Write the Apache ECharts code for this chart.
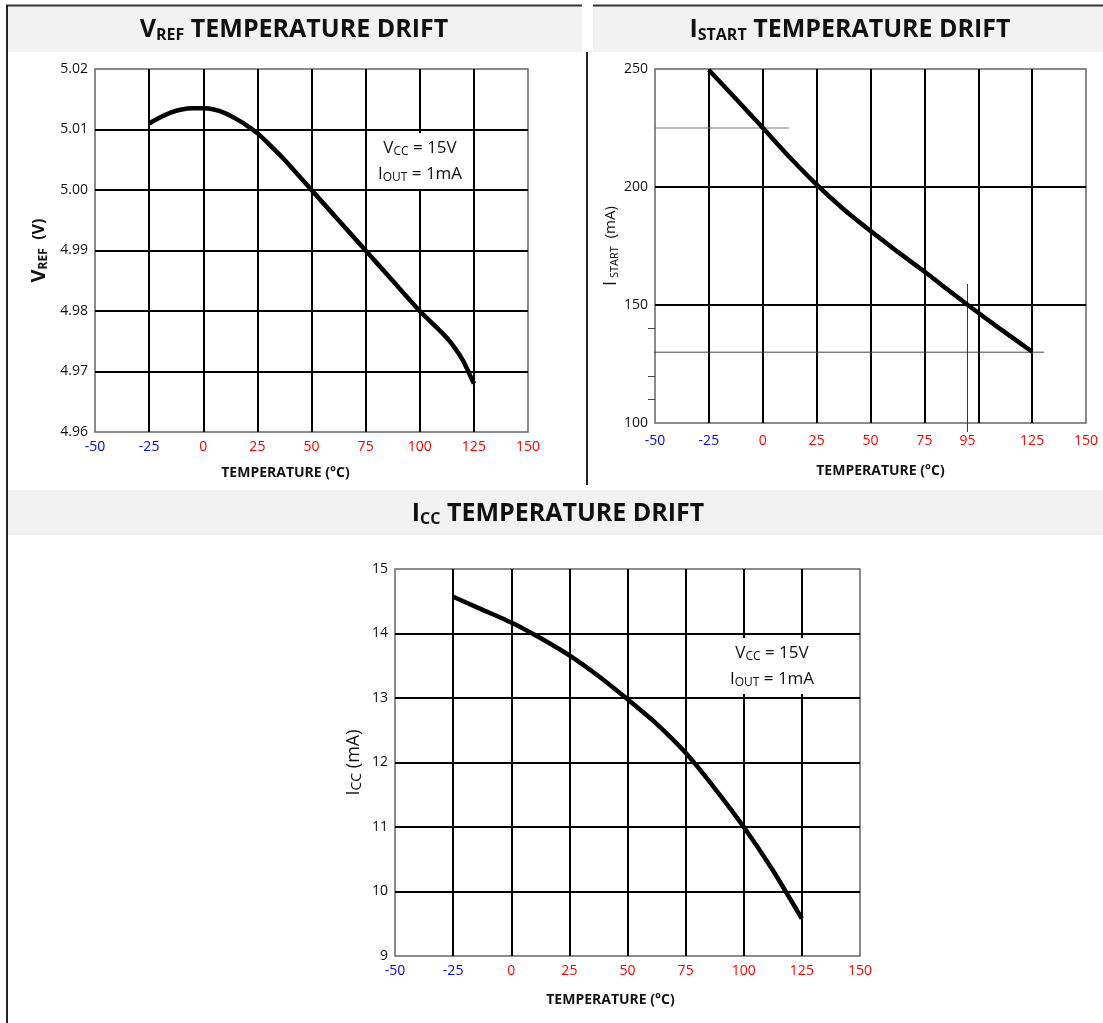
<!DOCTYPE html>
<html><head><meta charset="utf-8">
<script src="https://cdn.jsdelivr.net/npm/echarts@6/dist/echarts.min.js"></script>
<style>html,body{margin:0;padding:0;background:#fff}#c{width:1103px;height:1023px}</style>
</head><body><div id="c"></div>
<script>
// ---- data ----
const istartTickLabels = [-50, -25, 0, 25, 50, 75, 95, 125, 150];
const istartMinorTicks = [110, 120, 140];

const vrefTemp   = [-25, -20, -15, -10, -5, 0, 5, 10, 15, 20, 25, 30, 37.5, 50, 62.5, 75, 87.5, 100, 110, 115, 120, 125];
const vrefValues = [5.0110, 5.0120, 5.0128, 5.0133, 5.0135, 5.0135, 5.0133, 5.0127, 5.0118, 5.0107, 5.0094, 5.0077, 5.0050, 5.0000, 4.9950, 4.9900, 4.9850, 4.9800, 4.9765, 4.9745, 4.9718, 4.9680];

const istartTemp   = [-25, -12.5, 0, 12.5, 25, 37.5, 50, 62.5, 75, 85, 95, 110, 125];
const istartValues = [249.6, 237.4, 225.1, 212.6, 201.0, 190.6, 181.4, 172.6, 164.2, 157.1, 150.1, 140.0, 130.2];

const iccTemp   = [-25, -12.5, 0, 12.5, 25, 37.5, 50, 62.5, 75, 87.5, 100, 112.5, 125];
const iccValues = [14.57, 14.37, 14.17, 13.93, 13.66, 13.34, 12.98, 12.60, 12.15, 11.60, 11.00, 10.33, 9.58];

// guide lines drawn on the I_START chart
const istartGuide225 = [[-53.2, 225], [12.2, 225]];
const istartGuide130 = [[-53.2, 130], [130.5, 130]];
const istartGuide95  = [[95, 158.9], [95, 96.2]];

const zip = (xs, ys) => xs.map((x, i) => [x, ys[i]]);

const FONT = 'Open Sans';
const labelColor = v => (v < 0 ? '#0000ff' : (v === 0 ? '#111' : '#ff0000'));

function xAxisCfg(gridIndex, nameGap, shiftLeft, labelMargin, customValues) {
  const axisLabel = { fontFamily: FONT, fontSize: 14, margin: labelMargin, color: v => labelColor(v) };
  if (customValues) axisLabel.customValues = customValues;
  return {
    type: 'value', gridIndex, min: -50, max: 150, interval: 25,
    name: 'TEMPERATURE (°C)', nameLocation: 'middle', nameGap,
    nameTextStyle: { fontFamily: FONT, fontSize: 14, fontWeight: 'bold', color: '#111',
                     padding: shiftLeft >= 0 ? [0, shiftLeft * 2, 0, 0] : [0, 0, 0, -shiftLeft * 2] },
    axisLine: { show: false }, axisTick: { show: false },
    axisLabel,
    splitLine: { show: true, showMinLine: false, showMaxLine: false, lineStyle: { color: '#000', width: 2 } }
  };
}
function yAxisCfg(gridIndex, min, max, interval, name, nameGap, fmt) {
  return {
    type: 'value', gridIndex, min, max, interval,
    name, nameLocation: 'middle', nameGap,
    nameTextStyle: {
      fontFamily: FONT, fontSize: 15, color: '#111',
      rich: {
        B: { fontFamily: FONT, fontSize: 20, fontWeight: 'bold', color: '#111' },
        bs: { fontFamily: FONT, fontSize: 12, fontWeight: 'bold', color: '#111', padding: [9, 0, 0, 0] },
        bn: { fontFamily: FONT, fontSize: 16, fontWeight: 'bold', color: '#111' },
        b: { fontFamily: FONT, fontSize: 18, color: '#111' },
        s: { fontFamily: FONT, fontSize: 11, color: '#111', padding: [8, 0, 0, 0] },
        c: { fontFamily: FONT, fontSize: 14, color: '#111', padding: [7, 0, 0, 0] },
        n: { fontFamily: FONT, fontSize: 15, color: '#111' },
        m: { fontFamily: FONT, fontSize: 18, color: '#111' }
      }
    },
    axisLine: { show: false }, axisTick: { show: false },
    axisLabel: { fontFamily: FONT, fontSize: 14, color: '#111', margin: 7, formatter: fmt },
    splitLine: { show: true, showMinLine: false, showMaxLine: false, lineStyle: { color: '#000', width: 2 } }
  };
}
const curveStyle = { color: '#000', width: 4.5 };
function curve(xi, yi, data) {
  return { type: 'line', xAxisIndex: xi, yAxisIndex: yi, data, smooth: 0.2, symbol: 'none',
           lineStyle: curveStyle, itemStyle: { color: '#000' }, z: 5 };
}
function guide(xi, yi, data, color) {
  return { type: 'line', xAxisIndex: xi, yAxisIndex: yi, data, symbol: 'none', clip: false, silent: true,
           lineStyle: { color, width: 1 }, itemStyle: { color }, z: 3 };
}

const titleRich = {
  a: { fontFamily: FONT, fontSize: 25, fontWeight: 'bold', fill: '#111', color: '#111' },
  s: { fontFamily: FONT, fontSize: 16, fontWeight: 'bold', fill: '#111', color: '#111', padding: [11, 0, 0, 0] }
};
const noteRich = {
  n: { fontFamily: FONT, fontSize: 17, color: '#111', fill: '#111' },
  s: { fontFamily: FONT, fontSize: 12, color: '#111', fill: '#111', padding: [8, 0, 0, 0] }
};
function note(x, y) {
  return { type: 'text', x, y, z: 20,
    style: { text: '{n|V}{s|CC}{n| = 15V}\n{n|I}{s|OUT}{n| = 1mA}', rich: noteRich, align: 'center', verticalAlign: 'middle',
             backgroundColor: '#fff', padding: [2, 3], lineHeight: 26 } };
}
function title(x, y, main, sub) {
  return { type: 'text', x, y, z: 20,
    style: { text: '{a|' + main + '}{s|' + sub + '}{a| TEMPERATURE DRIFT}', rich: titleRich, align: 'center', verticalAlign: 'middle' } };
}

const chart = echarts.init(document.getElementById('c'), null, { renderer: 'canvas' });
chart.setOption({
  animation: false,
  backgroundColor: '#fff',
  grid: [
    { left: 95, top: 69, width: 433, height: 363, show: true, borderColor: '#666', borderWidth: 1.5, backgroundColor: 'transparent' },
    { left: 655, top: 69, width: 431, height: 354, show: true, borderColor: '#666', borderWidth: 1.5, backgroundColor: 'transparent' },
    { left: 395, top: 569, width: 465, height: 387, show: true, borderColor: '#666', borderWidth: 1.5, backgroundColor: 'transparent' }
  ],
  xAxis: [
    xAxisCfg(0, 34, 26, 8),
    xAxisCfg(1, 41, -10, 11, istartTickLabels),
    xAxisCfg(2, 37, 17, 8)
  ],
  yAxis: [
    yAxisCfg(0, 4.96, 5.02, 0.01, '{B|V}{bs|REF}{bn|  (V)}', 45, v => v.toFixed(2)),
    yAxisCfg(1, 100, 250, 50, '{b|I}{s| START}{n|  (mA)}', 34, v => String(v)),
    yAxisCfg(2, 9, 15, 1, '{m|I}{c|CC}{m| (mA)}', 31, v => String(v)),
    { type: 'value', gridIndex: 1, min: 100, max: 250, position: 'left',
      axisLine: { show: false }, axisLabel: { show: false }, splitLine: { show: false },
      axisTick: { show: true, length: 7, customValues: istartMinorTicks, lineStyle: { color: '#444', width: 1 } } }
  ],
  series: [
    curve(0, 0, zip(vrefTemp, vrefValues)),
    curve(1, 1, zip(istartTemp, istartValues)),
    curve(2, 2, zip(iccTemp, iccValues)),
    guide(1, 1, istartGuide225, '#777'),
    guide(1, 1, istartGuide130, '#444'),
    guide(1, 1, istartGuide95, '#333')
  ],
  graphic: [
    { type: 'rect', shape: { x: 6, y: 5, width: 576, height: 47 }, style: { fill: '#f2f2f2' }, z: 1 },
    { type: 'rect', shape: { x: 593, y: 5, width: 510, height: 47 }, style: { fill: '#f2f2f2' }, z: 1 },
    { type: 'rect', shape: { x: 8, y: 490, width: 1095, height: 45 }, style: { fill: '#f2f2f2' }, z: 1 },
    { type: 'line', shape: { x1: 6, y1: 5.5, x2: 582, y2: 5.5 }, style: { stroke: '#333', lineWidth: 2 }, z: 2 },
    { type: 'line', shape: { x1: 593, y1: 5.5, x2: 1103, y2: 5.5 }, style: { stroke: '#333', lineWidth: 2 }, z: 2 },
    { type: 'line', shape: { x1: 7, y1: 5, x2: 7, y2: 1023 }, style: { stroke: '#222', lineWidth: 2 }, z: 2 },
    { type: 'line', shape: { x1: 587, y1: 52, x2: 587, y2: 485 }, style: { stroke: '#222', lineWidth: 2 }, z: 2 },
    title(294, 30, 'V', 'REF'),
    title(850, 30, 'I', 'START'),
    title(558, 514, 'I', 'CC'),
    note(420, 161),
    note(772, 666)
  ]
});
</script>
</body></html>
